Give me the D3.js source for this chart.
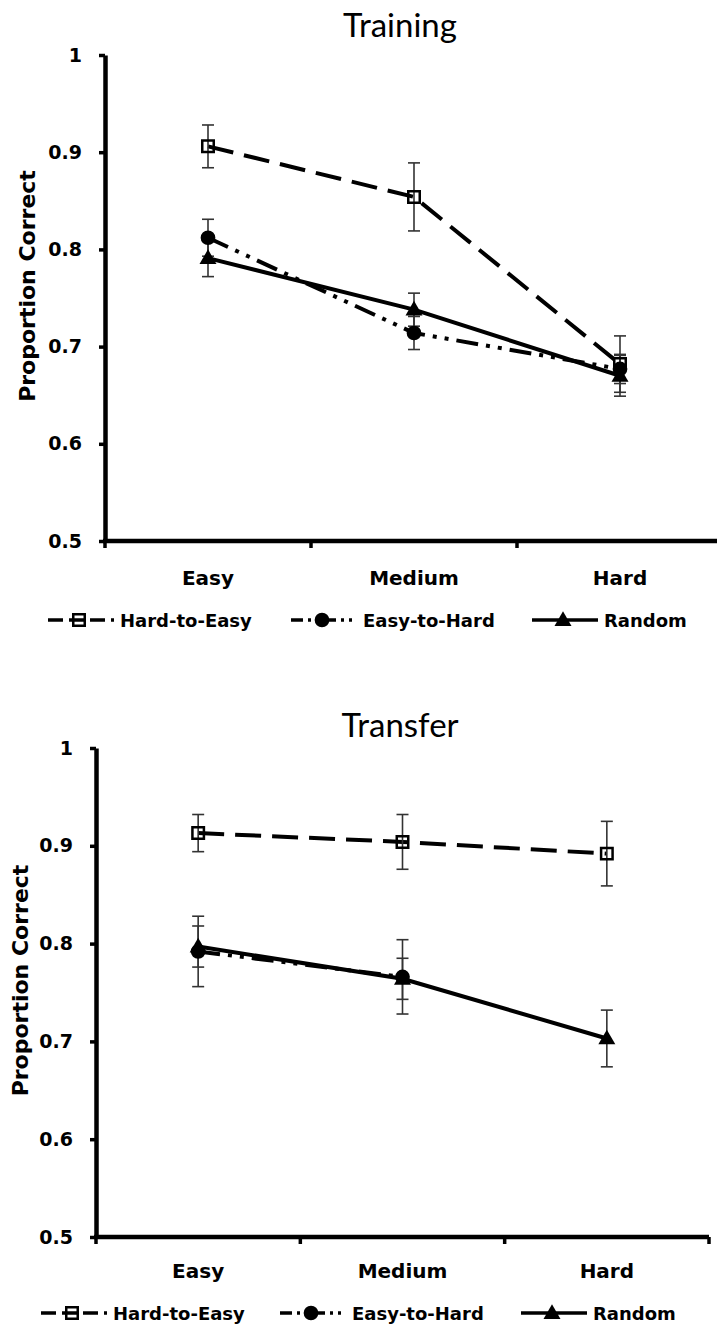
<!DOCTYPE html>
<html><head><meta charset="utf-8">
<script src="https://cdn.jsdelivr.net/npm/d3@7"></script>
<style>body{margin:0;background:#fff}svg{display:block}</style>
</head><body><div id="chart"></div>
<script>
// ---- data ----
const categories = ["Easy", "Medium", "Hard"];
const seriesNames = ["Hard-to-Easy", "Easy-to-Hard", "Random"];
const yTicks = [0.5, 0.6, 0.7, 0.8, 0.9, 1];

const trainingHardToEasy    = [0.906, 0.854, 0.682];
const trainingHardToEasyErr = [0.022, 0.035, 0.029];
const trainingEasyToHard    = [0.812, 0.714, 0.677];
const trainingEasyToHardErr = [0.019, 0.017, 0.015];
const trainingRandom        = [0.791, 0.738, 0.670];
const trainingRandomErr     = [0.019, 0.017, 0.021];

const transferHardToEasy    = [0.913, 0.904, 0.892];
const transferHardToEasyErr = [0.019, 0.028, 0.033];
const transferEasyToHard    = [0.792, 0.766, null];
const transferEasyToHardErr = [0.036, 0.038, null];
const transferRandom        = [0.797, 0.764, 0.703];
const transferRandomErr     = [0.021, 0.021, 0.029];

// ---- drawing ----
const W = 717, H = 1327;
const svg = d3.select("#chart").append("svg").attr("width", W).attr("height", H);
const BOLD = "'DejaVu Sans', Verdana, sans-serif";

const styles = {
  "Hard-to-Easy": {dash: "26,11", legendDash: "15,6", marker: "square"},
  "Easy-to-Hard": {dash: "22,8,4,8,4,8", legendDash: "12,5,3,5,3,5", marker: "circle"},
  "Random": {dash: null, legendDash: null, marker: "triangle"}
};

function addMarker(g, type, cx, cy) {
  if (type === "square") {
    g.append("path").attr("d", d3.symbol(d3.symbolSquare, 132)())
      .attr("transform", `translate(${cx},${cy})`)
      .attr("fill", "none").attr("stroke", "#000").attr("stroke-width", 2.5);
  } else if (type === "circle") {
    g.append("path").attr("d", d3.symbol(d3.symbolCircle, 170)())
      .attr("transform", `translate(${cx},${cy})`).attr("fill", "#000");
  } else {
    g.append("path").attr("d", d3.symbol(d3.symbolTriangle, 125)())
      .attr("transform", `translate(${cx},${cy + 1})`).attr("fill", "#000");
  }
}

function panel(cfg, series) {
  const g = svg.append("g");
  const x = d3.scaleBand().domain(categories).range([cfg.x0, cfg.x1]).padding(0);
  const y = d3.scaleLinear().domain([0.5, 1]).range([cfg.yBottom, cfg.yTop]);
  const cx = c => x(c) + x.bandwidth() / 2;

  // title
  g.append("text").attr("x", cfg.titleX).attr("y", cfg.titleY)
    .attr("text-anchor", "middle")
    .style("font-family", "Lato, 'Open Sans', sans-serif").style("font-size", "33px")
    .text(cfg.title);

  // y axis
  const yAxis = d3.axisLeft(y).tickValues(yTicks).tickSize(6).tickSizeOuter(0).tickPadding(17)
    .tickFormat(d => d === 1 ? "1" : d3.format(".1f")(d));
  const ya = g.append("g").attr("transform", `translate(${cfg.x0},0)`).call(yAxis);
  ya.select(".domain").attr("stroke", "#000").attr("stroke-width", 4.5);
  ya.selectAll(".tick line").attr("stroke", "#000").attr("stroke-width", 3.5);
  ya.selectAll(".tick text").style("font-family", BOLD).style("font-weight", "bold")
    .style("font-size", "19px").attr("fill", "#000");

  // y title
  const ymid = (cfg.yTop + cfg.yBottom) / 2 - 12;
  g.append("text").attr("transform", `translate(${cfg.yTitleX},${ymid}) rotate(-90)`)
    .attr("text-anchor", "middle")
    .style("font-family", BOLD).style("font-weight", "bold").style("font-size", "22px")
    .text("Proportion Correct");

  // x axis: labels
  const xa = g.append("g").attr("transform", `translate(0,${cfg.yBottom})`)
    .call(d3.axisBottom(x).tickSize(0).tickSizeOuter(0).tickPadding(cfg.catPad));
  xa.select(".domain").remove();
  xa.selectAll(".tick text").style("font-family", BOLD).style("font-weight", "bold")
    .style("font-size", "20px").attr("fill", "#000");
  // x axis line and boundary ticks
  g.append("line").attr("x1", cfg.x0 - 2).attr("x2", cfg.x1)
    .attr("y1", y(0.5)).attr("y2", y(0.5)).attr("stroke", "#000").attr("stroke-width", 4.5);
  const bounds = [x.range()[0]].concat(categories.map(c => x(c) + x.bandwidth()));
  g.selectAll(".bt").data(bounds).enter().append("line")
    .attr("x1", d => d).attr("x2", d => d)
    .attr("y1", y(0.5)).attr("y2", y(0.5) + 7)
    .attr("stroke", "#000").attr("stroke-width", 3.5);

  // series
  const pts = series.map(s => categories.map((c, i) => ({c, v: s.values[i], e: s.errs[i]})));
  const line = d3.line().defined(d => d.v != null).x(d => cx(d.c)).y(d => y(d.v));
  // draw order: Easy-to-Hard, Random, Hard-to-Easy lines
  [1, 2, 0].forEach(k => {
    const st = styles[series[k].name];
    g.append("path").datum(pts[k]).attr("d", line)
      .attr("fill", "none").attr("stroke", "#000").attr("stroke-width", 4)
      .attr("stroke-dasharray", st.dash);
  });
  // error bars
  pts.forEach(p => {
    p.filter(d => d.v != null).forEach(d => {
      const px = cx(d.c);
      const eg = g.append("g").attr("stroke", "#333").attr("stroke-width", 1.6);
      eg.append("line").attr("x1", px).attr("x2", px).attr("y1", y(d.v + d.e)).attr("y2", y(d.v - d.e));
      [d.v + d.e, d.v - d.e].forEach(v => eg.append("line")
        .attr("x1", px - 6).attr("x2", px + 6).attr("y1", y(v)).attr("y2", y(v)));
    });
  });
  // markers
  [1, 2, 0].forEach(k => {
    const st = styles[series[k].name];
    pts[k].filter(d => d.v != null).forEach(d => addMarker(g, st.marker, cx(d.c), y(d.v)));
  });

  // legend
  seriesNames.forEach((name, i) => {
    const st = styles[name];
    const lx = cfg.legendX[i], ly = cfg.legendY;
    g.append("line").attr("x1", lx).attr("x2", lx + 66).attr("y1", ly).attr("y2", ly)
      .attr("stroke", "#000").attr("stroke-width", 3.5).attr("stroke-dasharray", st.legendDash);
    addMarker(g, st.marker, lx + 31, ly);
    g.append("text").attr("x", lx + 72).attr("y", ly + 6.5)
      .style("font-family", BOLD).style("font-weight", "bold").style("font-size", "18px")
      .text(name);
  });
}

panel({title: "Training", titleX: 400, titleY: 37, x0: 105, x1: 723, yTop: 55, yBottom: 541,
       yTitleX: 35, catPad: 30, legendY: 620, legendX: [48, 291, 532]},
  [{name: "Hard-to-Easy", values: trainingHardToEasy, errs: trainingHardToEasyErr},
   {name: "Easy-to-Hard", values: trainingEasyToHard, errs: trainingEasyToHardErr},
   {name: "Random", values: trainingRandom, errs: trainingRandomErr}]);

panel({title: "Transfer", titleX: 400, titleY: 737, x0: 96, x1: 709, yTop: 748, yBottom: 1237,
       yTitleX: 28, catPad: 27, legendY: 1313, legendX: [41, 280, 521]},
  [{name: "Hard-to-Easy", values: transferHardToEasy, errs: transferHardToEasyErr},
   {name: "Easy-to-Hard", values: transferEasyToHard, errs: transferEasyToHardErr},
   {name: "Random", values: transferRandom, errs: transferRandomErr}]);
</script>
</body></html>
